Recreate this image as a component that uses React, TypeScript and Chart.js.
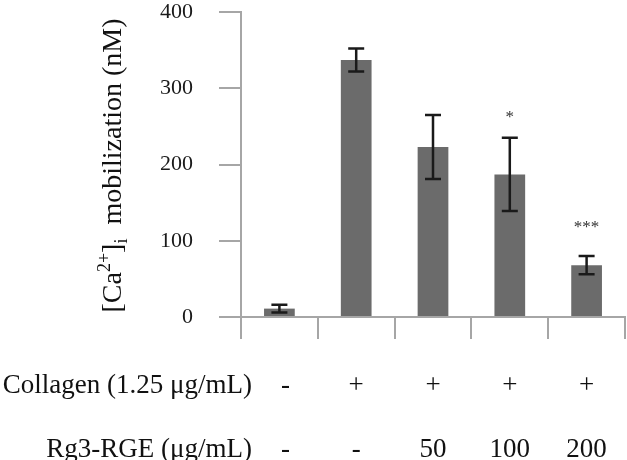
import React, { useEffect, useRef } from "react";
import { Chart, registerables } from "chart.js";

Chart.register(...registerables);

// ---- data ----
const collagenRow = ["-", "+", "+", "+", "+"];
const rg3Row = ["-", "-", "50", "100", "200"];
const categories = collagenRow.map((c, i) => `${c} / ${rg3Row[i]}`);
const meanValues = [11, 337, 223, 187, 68];
const errorValues = [5, 15, 42, 48, 12];
const significance = ["", "", "", "*", "***"];
const significanceY = [0, 0, 0, 265, 121];
const rowHeaders = ["Collagen (1.25 μg/mL)", "Rg3-RGE (μg/mL)"];
const yMin = 0;
const yMax = 400;
const yStep = 100;

const SERIF = '"Liberation Serif", "Times New Roman", serif';

const overlayPlugin = {
  id: "overlay",
  afterDatasetsDraw(chart: any) {
    const ctx = chart.ctx as CanvasRenderingContext2D;
    const xs = chart.scales.x;
    const ys = chart.scales.y;
    const meta = chart.getDatasetMeta(0);

    // error bars
    ctx.save();
    ctx.strokeStyle = "#1a1a1a";
    ctx.lineWidth = 2.5;
    ctx.lineCap = "butt";
    meta.data.forEach((bar: any, i: number) => {
      const x = bar.x;
      const yt = ys.getPixelForValue(meanValues[i] + errorValues[i]);
      const yb = ys.getPixelForValue(meanValues[i] - errorValues[i]);
      const half = 8;
      ctx.beginPath();
      ctx.moveTo(x, yt);
      ctx.lineTo(x, yb);
      ctx.moveTo(x - half, yt);
      ctx.lineTo(x + half, yt);
      ctx.moveTo(x - half, yb);
      ctx.lineTo(x + half, yb);
      ctx.stroke();
    });
    ctx.restore();

    // significance marks
    ctx.save();
    ctx.fillStyle = "#333";
    ctx.font = `17px ${SERIF}`;
    ctx.textAlign = "center";
    ctx.textBaseline = "middle";
    significance.forEach((s, i) => {
      if (!s) return;
      ctx.fillText(s, xs.getPixelForValue(i), ys.getPixelForValue(significanceY[i]) + 3);
    });
    ctx.restore();

    // bottom table
    const bottom = chart.chartArea.bottom;
    const rowsY = [bottom + 76, bottom + 140];
    const rows = [collagenRow, rg3Row];
    ctx.save();
    ctx.fillStyle = "#111";
    ctx.font = `27px ${SERIF}`;
    ctx.textBaseline = "alphabetic";
    rows.forEach((row, r) => {
      ctx.textAlign = "right";
      ctx.fillText(rowHeaders[r], 252, rowsY[r]);
      ctx.textAlign = "center";
      row.forEach((v, i) => {
        ctx.fillText(v, xs.getPixelForValue(i) + (i === 0 ? 6 : 0), rowsY[r]);
      });
    });
    ctx.restore();

    // y title with super/subscript
    const big = 28;
    const small = 18;
    const segs = [
      { t: "[Ca", s: big, dy: 0 },
      { t: "2+", s: small, dy: -11 },
      { t: "]", s: big, dy: 0 },
      { t: "i", s: small, dy: 6 },
      { t: "  mobilization (nM)", s: big, dy: 0 },
    ];
    ctx.save();
    ctx.fillStyle = "#111";
    let total = 0;
    const widths = segs.map((sg) => {
      ctx.font = `${sg.s}px ${SERIF}`;
      const w = ctx.measureText(sg.t).width;
      total += w;
      return w;
    });
    const cy = (chart.chartArea.top + chart.chartArea.bottom) / 2 + 1;
    ctx.translate(121, cy);
    ctx.rotate(-Math.PI / 2);
    let x = -total / 2;
    ctx.textAlign = "left";
    ctx.textBaseline = "alphabetic";
    segs.forEach((sg, i) => {
      ctx.font = `${sg.s}px ${SERIF}`;
      ctx.fillText(sg.t, x, sg.dy);
      x += widths[i];
    });
    ctx.restore();
  },
};

export default function App() {
  const ref = useRef<HTMLCanvasElement | null>(null);

  useEffect(() => {
    if (!ref.current) return;
    const chart = new Chart(ref.current, {
      type: "bar",
      data: {
        labels: categories,
        datasets: [
          {
            data: meanValues,
            backgroundColor: "#6b6b6b",
            borderWidth: 0,
            categoryPercentage: 1,
            barPercentage: 0.4,
          },
        ],
      },
      options: {
        responsive: false,
        animation: false,
        devicePixelRatio: 1,
        layout: { padding: { top: 12, right: 2, left: 0, bottom: 0 } },
        plugins: {
          legend: { display: false },
          tooltip: { enabled: false },
        },
        scales: {
          x: {
            type: "category",
            offset: true,
            grid: {
              display: true,
              drawOnChartArea: false,
              drawTicks: true,
              tickLength: 22,
              offset: true,
              color: "#a6a6a6",
              lineWidth: 2,
            },
            border: { display: true, color: "#a6a6a6", width: 2 },
            ticks: { display: false },
            afterFit: (s: any) => {
              s.height = 143;
              s.paddingLeft = 0;
              s.paddingRight = 0;
            },
          },
          y: {
            min: yMin,
            max: yMax,
            ticks: {
              stepSize: yStep,
              font: { family: SERIF, size: 22 },
              color: "#1a1a1a",
              padding: 26,
            },
            grid: {
              drawOnChartArea: false,
              tickLength: 22,
              color: "#a6a6a6",
              lineWidth: 2,
            },
            border: { color: "#a6a6a6", width: 2 },
            afterFit: (s: any) => {
              s.width = 241;
              s.paddingTop = 0;
              s.paddingBottom = 0;
            },
          },
        },
      },
      plugins: [overlayPlugin],
    } as any);
    return () => chart.destroy();
  }, []);

  return (
    <div style={{ position: "absolute", left: 0, top: 0, width: 627, height: 460, background: "#fff" }}>
      <canvas ref={ref} width={627} height={460} style={{ display: "block" }} />
    </div>
  );
}
